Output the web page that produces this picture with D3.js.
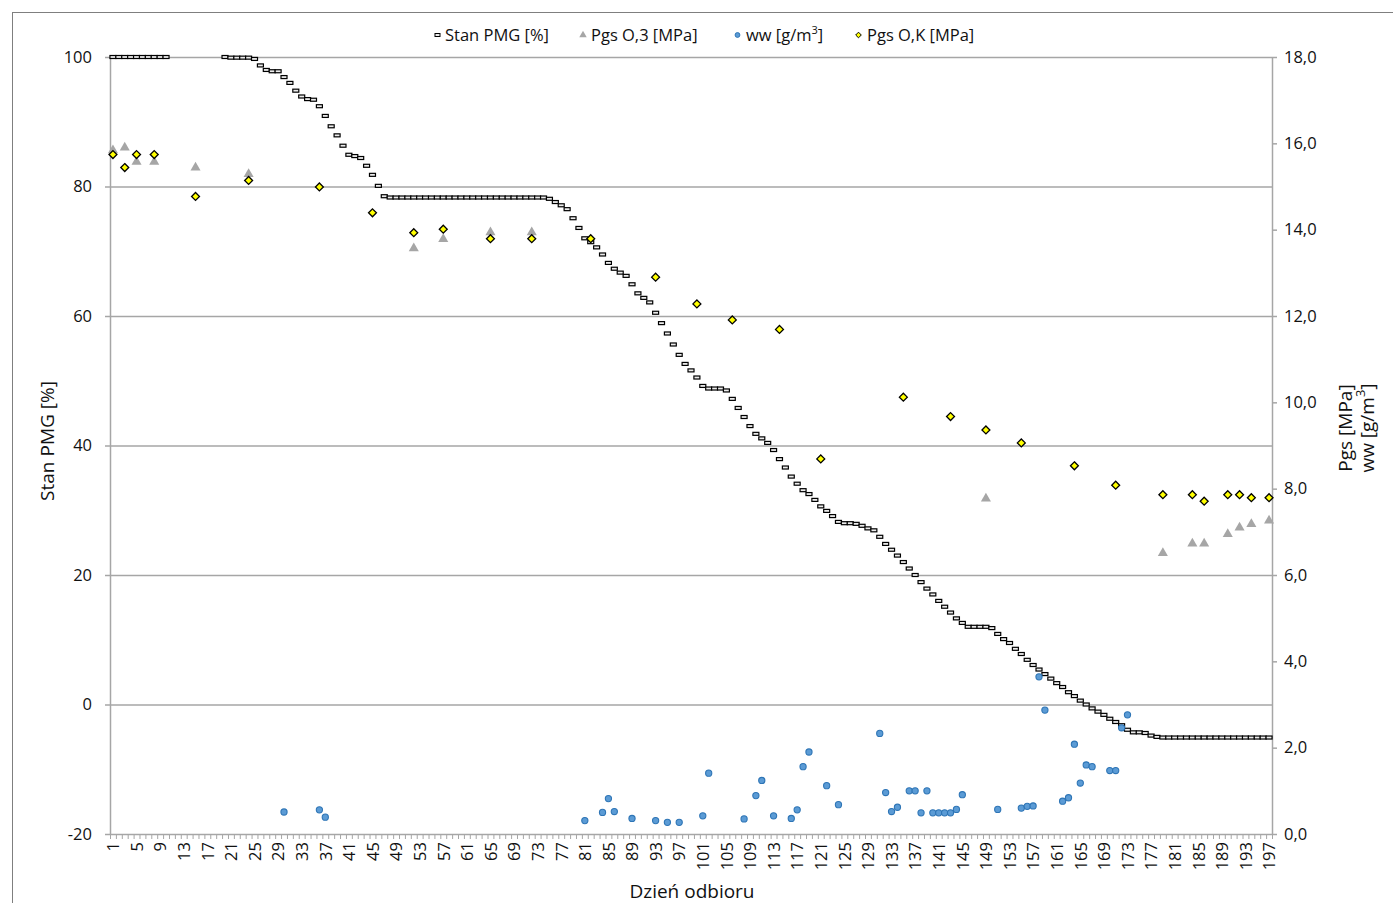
<!DOCTYPE html>
<html>
<head>
<meta charset="utf-8">
<script src="https://cdn.jsdelivr.net/npm/d3@7"></script>
<style>
body { margin: 0; background: #fff; }
text { font-family: "Open Sans", sans-serif; fill: #111; }
</style>
</head>
<body>
<div id="chart"></div>
<script>
// categories (day numbers) and axis ticks
var days = d3.range(1, 198);
var dayLabels = days.filter(function (d) { return (d - 1) % 4 == 0; });
var leftTicks = [-20, 0, 20, 40, 60, 80, 100];
var rightTicks = [0, 2, 4, 6, 8, 10, 12, 14, 16, 18];

// Stan PMG [%] - one value per day, null = no reading
var stanPMG = [
  100, 100, 100, 100, 100, 100, 100, 100, 100, 100,
  null, null, null, null, null, null, null, null, null,
  100, 99.9, 99.9, 99.9, 99.9, 99.7,
  98.7, 98.0, 97.8, 97.8, 96.9, 96.0, 94.8, 93.9, 93.5, 93.4,
  92.4, 90.9, 89.3, 87.9, 86.3, 84.9, 84.7, 84.4, 83.2, 81.8,
  80.1, 78.5,
  78.3, 78.3, 78.3, 78.3, 78.3, 78.3, 78.3, 78.3, 78.3, 78.3,
  78.3, 78.3, 78.3, 78.3, 78.3, 78.3, 78.3, 78.3, 78.3, 78.3,
  78.3, 78.3, 78.3, 78.3, 78.3, 78.3, 78.3,
  78.1, 77.6, 77.1, 76.5, 75.1, 73.6, 72.0, 71.4, 70.6, 69.5,
  68.2, 67.3, 66.7, 66.2, 64.9, 63.5, 62.8, 62.1, 60.5, 58.9,
  57.3, 55.6, 54.0, 52.6, 51.6, 50.5, 49.2, 48.8, 48.8, 48.8,
  48.5, 47.2, 45.8, 44.4, 43.0, 41.8, 41.1, 40.4, 39.3, 37.9,
  36.6, 35.2, 34.1, 33.1, 32.5, 31.6, 30.6, 29.9, 29.1, 28.2,
  28.0, 28.0, 27.9, 27.6, 27.2, 26.9, 25.9, 24.8, 23.9, 23.0,
  22.0, 21.0, 20.0, 18.9, 17.9, 17.0, 16.0, 15.1, 14.2, 13.3,
  12.6, 12.0, 12.0, 12.0, 12.0, 11.8, 10.9, 10.1, 9.5, 8.6,
  7.8, 6.9, 6.1, 5.4, 4.7, 4.0, 3.3, 2.7, 1.9, 1.3,
  0.6, 0.0, -0.6, -1.1, -1.6, -2.2, -2.7, -3.2, -3.9, -4.3,
  -4.3, -4.4, -4.8, -5.0,
  -5.1, -5.1, -5.1, -5.1, -5.1, -5.1, -5.1, -5.1, -5.1, -5.1,
  -5.1, -5.1, -5.1, -5.1, -5.1, -5.1, -5.1, -5.1, -5.1
];

// Pgs O,3 [MPa]
var pgsO3Days = [1, 3, 5, 8, 15, 24, 52, 57, 65, 72, 149, 179, 184, 186, 190, 192, 194, 197];
var pgsO3 = [15.84, 15.9, 15.57, 15.57, 15.44, 15.29, 13.57, 13.78, 13.94, 13.94, 7.77, 6.51, 6.73, 6.73, 6.95, 7.1, 7.18, 7.26];

// ww [g/m3]
var wwDays = [30, 36, 37, 81, 84, 85, 86, 89, 93, 95, 97, 101, 102, 108, 110, 111, 113, 116, 117, 118,
  119, 122, 124, 131, 132, 133, 134, 136, 137, 138, 139, 140, 141, 142, 143, 144, 145, 151, 155, 156,
  157, 158, 159, 162, 163, 164, 165, 166, 167, 170, 171, 172, 173];
var ww = [0.51, 0.56, 0.39, 0.31, 0.5, 0.82, 0.52, 0.36, 0.31, 0.27, 0.27, 0.42, 1.41, 0.35, 0.89, 1.24, 0.42, 0.36, 0.56, 1.56,
  1.9, 1.12, 0.68, 2.33, 0.96, 0.52, 0.62, 1.0, 1.0, 0.49, 1.0, 0.49, 0.49, 0.49, 0.49, 0.57, 0.91, 0.57, 0.6, 0.64,
  0.65, 3.64, 2.87, 0.76, 0.84, 2.08, 1.18, 1.6, 1.56, 1.47, 1.47, 2.46, 2.76];

// Pgs O,K [MPa]
var pgsOKDays = [1, 3, 5, 8, 15, 24, 36, 45, 52, 57, 65, 72, 82, 93, 100, 106, 114, 121, 135, 143,
  149, 155, 164, 171, 179, 184, 186, 190, 192, 194, 197];
var pgsOK = [15.74, 15.44, 15.74, 15.74, 14.77, 15.14, 14.99, 14.39, 13.93, 14.01, 13.79, 13.79, 13.79, 12.9, 12.28, 11.91, 11.69, 8.69, 10.12, 9.67,
  9.36, 9.06, 8.53, 8.08, 7.86, 7.86, 7.71, 7.86, 7.86, 7.79, 7.79];

var W = 1393, H = 903;
var plotL = 110, plotR = 1272, plotT = 57, plotB = 834;

var svg = d3.select("#chart").append("svg")
  .attr("width", W)
  .attr("height", H);

// chart border
svg.append("rect")
  .attr("x", 12.5).attr("y", 12.5)
  .attr("width", W).attr("height", H)
  .attr("fill", "none")
  .attr("stroke", "#7f7f7f");

var x = d3.scaleLinear().domain([0.5, 197.5]).range([plotL, plotR]);
var yL = d3.scaleLinear().domain([-20, 100]).range([plotB, plotT]);
var yR = d3.scaleLinear().domain([0, 18]).range([plotB, plotT]);

var axisColor = "#a6a6a6";

// gridlines
svg.append("g")
  .attr("transform", "translate(" + plotL + ",0)")
  .call(d3.axisLeft(yL).tickValues(leftTicks.slice(1)).tickSize(-(plotR - plotL)).tickFormat(""))
  .call(function (g) {
    g.select(".domain").remove();
    g.selectAll("line").attr("stroke", axisColor).attr("stroke-width", 1.5);
  });

// left axis
svg.append("g")
  .attr("transform", "translate(" + plotL + ",0)")
  .call(d3.axisLeft(yL).tickValues(leftTicks).tickSize(5).tickSizeOuter(0).tickPadding(13)
    .tickFormat(function (d) { return String(d); }))
  .call(function (g) {
    g.select(".domain").attr("stroke", axisColor).attr("stroke-width", 1.5);
    g.selectAll("line").attr("stroke", axisColor).attr("stroke-width", 1.5);
    g.selectAll("text").style("font-size", "16.5px").style("font-family", "Open Sans");
  });

// right axis
var fmt = d3.format(".1f");
svg.append("g")
  .attr("transform", "translate(" + plotR + ",0)")
  .call(d3.axisRight(yR).tickValues(rightTicks).tickSize(5).tickSizeOuter(0).tickPadding(7)
    .tickFormat(function (d) { return fmt(d).replace(".", ","); }))
  .call(function (g) {
    g.select(".domain").attr("stroke", axisColor).attr("stroke-width", 1.5);
    g.selectAll("line").attr("stroke", axisColor).attr("stroke-width", 1.5);
    g.selectAll("text").style("font-size", "16.5px").style("font-family", "Open Sans");
  });

// bottom axis: minor ticks between categories
svg.append("g")
  .attr("transform", "translate(0," + plotB + ")")
  .call(d3.axisBottom(x).tickValues(d3.range(0.5, 198, 1)).tickSize(5).tickSizeOuter(0).tickFormat(""))
  .call(function (g) {
    g.select(".domain").attr("stroke", axisColor).attr("stroke-width", 1.5);
    g.selectAll("line").attr("stroke", axisColor).attr("stroke-width", 1);
  });

// bottom axis: labels
svg.append("g")
  .attr("transform", "translate(0," + plotB + ")")
  .call(d3.axisBottom(x).tickValues(dayLabels).tickSize(0))
  .call(function (g) {
    g.select(".domain").remove();
    g.selectAll("text")
      .attr("transform", "rotate(-90)")
      .attr("x", -8).attr("y", 0).attr("dy", "0.35em")
      .style("text-anchor", "end")
      .style("font-size", "16.5px").style("font-family", "Open Sans");
  });

// axis titles
svg.append("text")
  .attr("transform", "translate(54,441) rotate(-90)")
  .attr("text-anchor", "middle")
  .style("font-size", "19px")
  .text("Stan PMG [%]");

svg.append("text")
  .attr("transform", "translate(1352,428) rotate(-90)")
  .attr("text-anchor", "middle")
  .style("font-size", "19px")
  .text("Pgs [MPa]");

var t2 = svg.append("text")
  .attr("transform", "translate(1374,428) rotate(-90)")
  .attr("text-anchor", "middle")
  .style("font-size", "19px");
t2.append("tspan").text("ww [g/m");
t2.append("tspan").attr("baseline-shift", "super").style("font-size", "13px").text("3");
t2.append("tspan").text("]");

svg.append("text")
  .attr("x", 692).attr("y", 898)
  .attr("text-anchor", "middle")
  .style("font-size", "19px")
  .text("Dzień odbioru");

// series
var stanData = days.map(function (d, i) { return {day: d, v: stanPMG[i]}; })
  .filter(function (d) { return d.v != null; });

svg.append("g").selectAll("rect")
  .data(stanData)
  .enter()
  .append("rect")
  .attr("x", function (d) { return x(d.day) - 3; })
  .attr("y", function (d) { return yL(d.v) - 1.5; })
  .attr("width", 6)
  .attr("height", 3)
  .attr("fill", "#ececec")
  .attr("stroke", "#000")
  .attr("stroke-width", 1.2);

var tri = d3.symbol().type(d3.symbolTriangle).size(44);
svg.append("g").selectAll("path")
  .data(pgsO3Days)
  .enter()
  .append("path")
  .attr("d", tri)
  .attr("transform", function (d, i) { return "translate(" + x(d) + "," + yR(pgsO3[i]) + ")"; })
  .attr("fill", "#a6a6a6");

svg.append("g").selectAll("circle")
  .data(wwDays)
  .enter()
  .append("circle")
  .attr("cx", function (d) { return x(d); })
  .attr("cy", function (d, i) { return yR(ww[i]); })
  .attr("r", 3.1)
  .attr("fill", "#5b9bd5")
  .attr("stroke", "#2e75b6")
  .attr("stroke-width", 1.1);

var dia = d3.symbol().type(d3.symbolDiamond2).size(40);
svg.append("g").selectAll("path")
  .data(pgsOKDays)
  .enter()
  .append("path")
  .attr("d", dia)
  .attr("transform", function (d, i) { return "translate(" + x(d) + "," + yR(pgsOK[i]) + ")"; })
  .attr("fill", "#ffff00")
  .attr("stroke", "#000")
  .attr("stroke-width", 1.3);

// legend
var lg = svg.append("g");
lg.append("rect").attr("x", 435).attr("y", 33.5).attr("width", 5).attr("height", 3)
  .attr("fill", "#ececec").attr("stroke", "#000");
lg.append("text").attr("x", 445).attr("y", 41).style("font-size", "16.5px").text("Stan PMG [%]");

lg.append("path").attr("d", d3.symbol().type(d3.symbolTriangle).size(24))
  .attr("transform", "translate(583,35)").attr("fill", "#a6a6a6");
lg.append("text").attr("x", 591).attr("y", 41).style("font-size", "16.5px").text("Pgs O,3 [MPa]");

lg.append("circle").attr("cx", 737.5).attr("cy", 35).attr("r", 2.4)
  .attr("fill", "#5b9bd5").attr("stroke", "#2e75b6");
var lt = lg.append("text").attr("x", 746).attr("y", 41).style("font-size", "16.5px");
lt.append("tspan").text("ww [g/m");
lt.append("tspan").attr("baseline-shift", "super").style("font-size", "11px").text("3");
lt.append("tspan").text("]");

lg.append("path").attr("d", d3.symbol().type(d3.symbolDiamond2).size(20))
  .attr("transform", "translate(858.5,35)").attr("fill", "#ffff00").attr("stroke", "#000");
lg.append("text").attr("x", 867).attr("y", 41).style("font-size", "16.5px").text("Pgs O,K [MPa]");
</script>
</body>
</html>
